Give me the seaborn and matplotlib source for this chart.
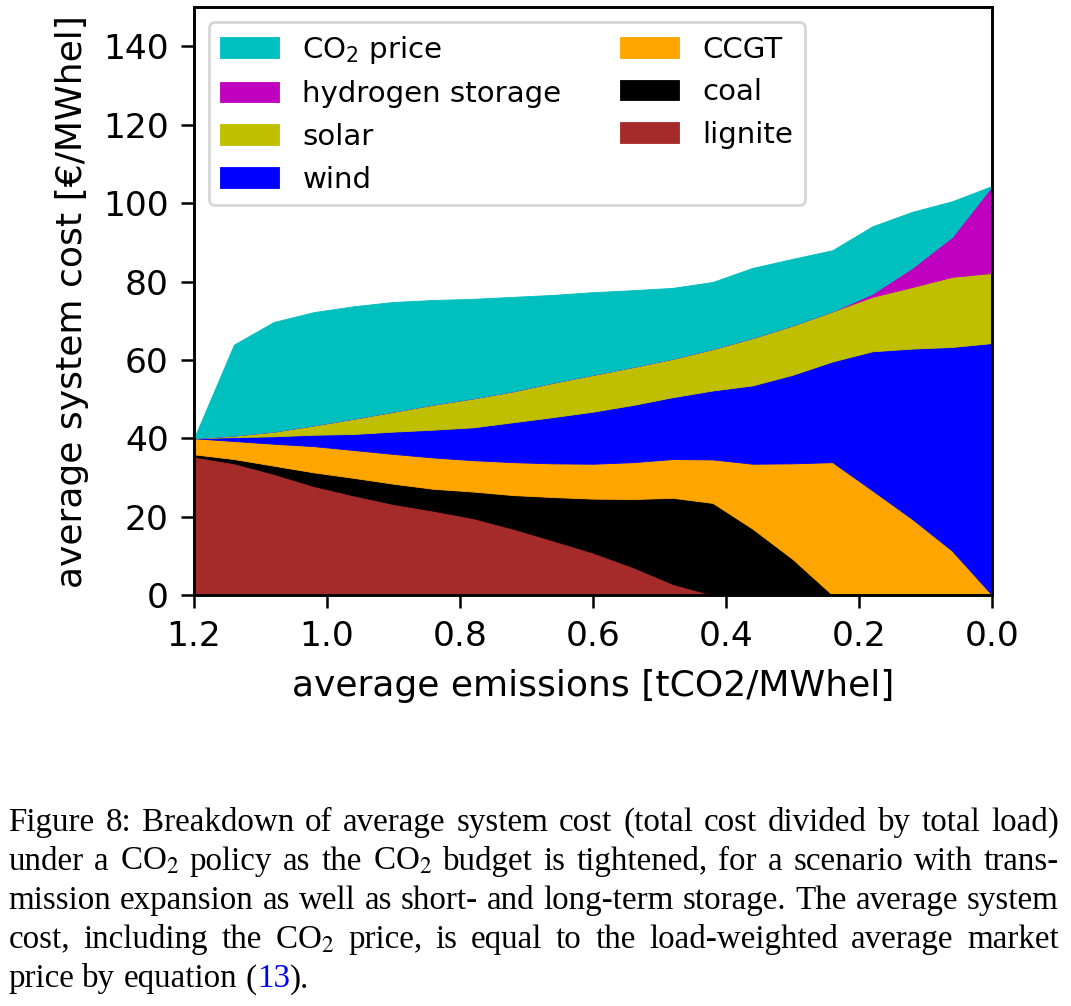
import numpy as np
import pandas as pd
import matplotlib
matplotlib.use("Agg")
import matplotlib.pyplot as plt
import seaborn as sns

# ---------------- data ----------------
emissions = [1.2, 1.14, 1.08, 1.02, 0.96, 0.90, 0.84, 0.78, 0.72, 0.66, 0.60,
             0.54, 0.48, 0.42, 0.36, 0.30, 0.24, 0.18, 0.12, 0.06, 0.0]
lignite = [35.3, 33.6, 30.9, 27.8, 25.4, 23.2, 21.5, 19.6, 16.9, 13.9, 10.8,
           7.1, 2.8, 0.0, 0.0, 0.0, 0.0, 0.0, 0.0, 0.0, 0.0]
coal = [0.6, 1.1, 2.1, 3.5, 4.5, 5.2, 5.6, 6.8, 8.6, 11.1, 13.8,
        17.4, 22.0, 23.5, 16.9, 9.2, 0.0, 0.0, 0.0, 0.0, 0.0]
ccgt = [4.1, 4.6, 5.6, 6.7, 7.1, 7.6, 8.0, 8.0, 8.4, 8.6, 8.9,
        9.4, 9.9, 11.1, 16.6, 24.4, 33.9, 26.7, 19.4, 11.3, 0.0]
wind = [0.0, 1.0, 1.9, 2.9, 4.1, 5.7, 7.1, 8.4, 10.2, 11.8, 13.3,
        14.6, 15.8, 17.6, 20.0, 22.6, 25.7, 35.5, 43.5, 52.0, 64.3]
solar = [0.0, 0.4, 1.2, 2.4, 3.9, 5.1, 6.4, 7.4, 7.9, 8.8, 9.4,
         9.7, 9.8, 10.6, 12.1, 12.6, 12.8, 13.9, 15.7, 17.9, 17.9]
hydrogen = [0.0, 0.0, 0.0, 0.0, 0.0, 0.0, 0.0, 0.0, 0.0, 0.0, 0.0,
            0.0, 0.0, 0.0, 0.0, 0.0, 0.0, 0.8, 4.9, 10.2, 22.2]
co2_price = [0.0, 23.2, 28.0, 28.9, 28.7, 28.0, 26.7, 25.4, 24.1, 22.4, 21.1,
             19.6, 18.1, 17.1, 17.9, 17.0, 15.6, 17.2, 14.3, 9.1, 0.0]

tech_names = ["lignite", "coal", "CCGT", "wind", "solar", "hydrogen storage", "CO$_2$ price"]
tech_colors = ["#a52a2a", "#000000", "#ffa500", "#0000ff", "#bfbf00", "#bf00bf", "#00bfbf"]

df = pd.DataFrame({"emissions": emissions, "lignite": lignite, "coal": coal,
                   "CCGT": ccgt, "wind": wind, "solar": solar,
                   "hydrogen storage": hydrogen, "CO$_2$ price": co2_price})

caption_lines = [
    "Figure 8: Breakdown of average system cost (total cost divided by total load)",
    "under a CO$_2$ policy as the CO$_2$ budget is tightened, for a scenario with trans-",
    "mission expansion as well as short- and long-term storage. The average system",
    "cost, including the CO$_2$ price, is equal to the load-weighted average market",
    "price by equation (13).",
]

# ---------------- style ----------------
sns.set_theme(style="ticks")
plt.rcParams["font.family"] = ["DejaVu Sans"]
plt.rcParams.update({
    "axes.edgecolor": "black", "axes.linewidth": 2.1,
    "xtick.color": "black", "ytick.color": "black",
    "text.color": "black", "axes.labelcolor": "black",
    "xtick.major.size": 9.1, "ytick.major.size": 9.1,
    "xtick.major.width": 1.8, "ytick.major.width": 1.8,
    "xtick.major.pad": 9.1, "ytick.major.pad": 9.1,
    "axes.facecolor": "white", "figure.facecolor": "white",
})

W, H = 1071, 1006
fig = plt.figure(figsize=(W / 100, H / 100), dpi=100)
ax = fig.add_axes([194 / W, 1 - 595 / H, (992 - 194) / W, (595 - 7.3) / H])

polys = ax.stackplot(df["emissions"], *[df[n] for n in tech_names],
                     colors=tech_colors, labels=tech_names,
                     linewidth=0.6, edgecolor="face")

ax.set_xlim(1.2, 0.0)
ax.set_ylim(0, 150)
ax.set_xticks([1.2, 1.0, 0.8, 0.6, 0.4, 0.2, 0.0])
ax.set_yticks([0, 20, 40, 60, 80, 100, 120, 140])
ax.tick_params(labelsize=24.8)
ax.set_xlabel("average emissions [tCO2/MWhel]", fontsize=26, labelpad=11)
ax.set_ylabel("average system cost [€/MWhel]", fontsize=26, labelpad=10.4)

handles, labels = ax.get_legend_handles_labels()
leg = ax.legend(handles[::-1], labels[::-1], loc="upper left", ncol=2,
                fontsize=21.1, frameon=True, fancybox=True,
                edgecolor="0.8", framealpha=0.8)
leg.get_frame().set_linewidth(2.0)

# ---------------- caption (justified) ----------------
renderer = fig.canvas.get_renderer()
CAP_FS = 23.8
fs_px = CAP_FS * 100 / 72
x_left, x_right = 8.3, 1059.0
baselines = [831.0, 870.0, 909.0, 948.3, 987.3]

for li, line in enumerate(caption_lines):
    words = line.split(" ")
    tokens = []
    for w in words:
        if "(13)" in w:
            tokens.append(["(", "black", False])
            tokens.append(["13", "#0000ff", False])
            tokens.append([")" + w.split("(13)")[1], "black", True])
        else:
            tokens.append([w, "black", True])
    tokens[-1][2] = False
    y = 1 - baselines[li] / H
    objs = []
    for s, c, sp in tokens:
        t = fig.text(0, y, s, fontsize=CAP_FS, family="Liberation Serif",
                     color=c, va="baseline", ha="left", math_fontfamily="stix")
        objs.append(t)
    widths = [o.get_window_extent(renderer).width for o in objs]
    n_gaps = sum(1 for tk in tokens if tk[2])
    justify = li < len(caption_lines) - 1
    if justify and n_gaps > 0:
        gap = (x_right - x_left - sum(widths)) / n_gaps
    else:
        gap = 0.25 * fs_px
    x = x_left
    for o, wdt, tk in zip(objs, widths, tokens):
        o.set_x(x / W)
        x += wdt + (gap if tk[2] else 0)

fig.savefig("out.png", dpi=100)
